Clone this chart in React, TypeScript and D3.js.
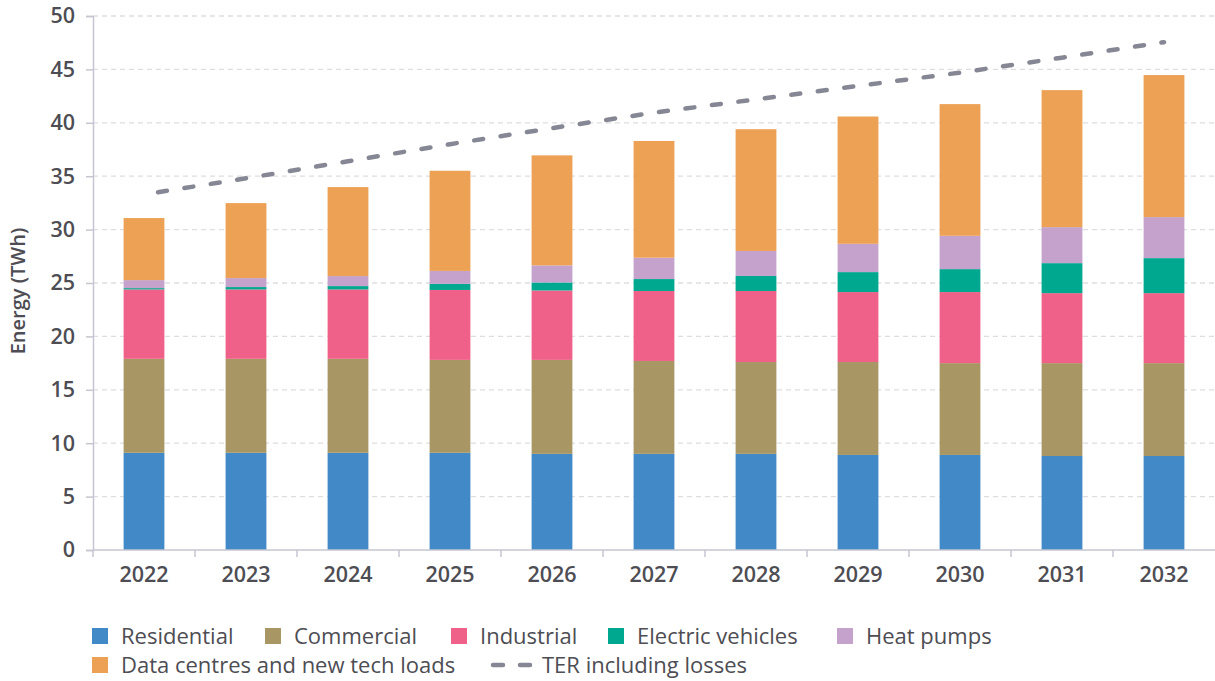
import React, { useEffect, useRef } from "react"
import * as d3 from "d3"

const WIDTH = 1215
const HEIGHT = 681

const years = ["2022", "2023", "2024", "2025", "2026", "2027", "2028", "2029", "2030", "2031", "2032"]

const residential = [9.1, 9.1, 9.1, 9.1, 9.0, 9.0, 9.0, 8.9, 8.9, 8.8, 8.8]
const commercial = [8.8, 8.8, 8.8, 8.7, 8.8, 8.7, 8.6, 8.7, 8.6, 8.7, 8.7]
const industrial = [6.5, 6.5, 6.5, 6.55, 6.5, 6.55, 6.65, 6.55, 6.65, 6.55, 6.55]
const electricVehicles = [0.12, 0.22, 0.31, 0.57, 0.75, 1.12, 1.41, 1.87, 2.15, 2.81, 3.28]
const heatPumps = [0.75, 0.84, 0.94, 1.21, 1.6, 2.0, 2.34, 2.65, 3.12, 3.37, 3.84]
const dataCentres = [5.81, 7.02, 8.33, 9.38, 10.3, 10.93, 11.4, 11.92, 12.33, 12.83, 13.3]
const terLosses = [33.3, 34.8, 36.4, 38.0, 39.5, 40.95, 42.2, 43.45, 44.7, 46.1, 47.55]

const yTicks = [0, 5, 10, 15, 20, 25, 30, 35, 40, 45, 50]

const seriesNames = ["Residential", "Commercial", "Industrial", "Electric vehicles", "Heat pumps", "Data centres and new tech loads"]
const seriesColors = ["#4289c7", "#a89764", "#ef6189", "#00a88f", "#c4a2cb", "#eca154"]
const seriesValues = [residential, commercial, industrial, electricVehicles, heatPumps, dataCentres]

const LINE_COLOR = "#868794"
const TEXT_COLOR = "#4d4d53"
const FONT = "'Open Sans', 'Noto Sans', sans-serif"

const App = () => {
	const svgRef = useRef<SVGSVGElement>(null)

	useEffect(() => {
		if (!svgRef.current) return
		const svg = d3.select(svgRef.current)
		svg.selectAll("*").remove()

		const margin = { top: 16, right: 0, bottom: 131, left: 93 }
		const width = WIDTH - margin.left - margin.right
		const height = HEIGHT - margin.top - margin.bottom

		const g = svg.append("g").attr("transform", `translate(${margin.left},${margin.top})`)

		const xScale = d3.scaleBand().domain(years).range([0, width]).paddingInner(0.6).paddingOuter(0.3)
		const xBoundary = d3.scaleBand().domain(years).range([0, width]).padding(0)
		const yScale = d3.scaleLinear().domain([0, 50]).range([height, 0])

		// dashed grid
		g.append("g")
			.selectAll("line")
			.data(yTicks.filter((t) => t > 0))
			.join("line")
			.attr("x1", 0)
			.attr("x2", width)
			.attr("y1", (d) => yScale(d))
			.attr("y2", (d) => yScale(d))
			.attr("stroke", "#dedee2")
			.attr("stroke-width", 1.3)
			.attr("stroke-dasharray", "5,4")

		// stacked bars
		const table = years.map((year, i) => {
			const row: any = { year }
			seriesNames.forEach((name, s) => (row[name] = seriesValues[s][i]))
			return row
		})
		const stacked = d3.stack().keys(seriesNames)(table)

		g.append("g")
			.selectAll("g")
			.data(stacked)
			.join("g")
			.attr("fill", (_, i) => seriesColors[i])
			.selectAll("rect")
			.data((d) => d)
			.join("rect")
			.attr("x", (d: any) => xScale(d.data.year)!)
			.attr("width", xScale.bandwidth())
			.attr("y", (d) => yScale(d[1]))
			.attr("height", (d) => yScale(d[0]) - yScale(d[1]))

		// TER line
		const line = d3
			.line<number>()
			.x((_, i) => xScale(years[i])! + xScale.bandwidth() / 2)
			.y((d) => yScale(d))
		g.append("path")
			.datum(terLosses)
			.attr("fill", "none")
			.attr("stroke", LINE_COLOR)
			.attr("stroke-width", 4.5)
			.attr("stroke-linecap", "round")
			.attr("stroke-dasharray", "9,17.7")
			.attr("stroke-dashoffset", 12.5)
			.attr("d", line)

		// axes
		const axisColor = "#c6c6d2"
		const yAxis = g.append("g").call(d3.axisLeft(yScale).tickValues(yTicks).tickSize(7).tickPadding(11))
		yAxis.select(".domain").attr("stroke", axisColor).attr("stroke-width", 1.5)
		yAxis.selectAll(".tick line").attr("stroke", axisColor).attr("stroke-width", 1.5)
		yAxis.selectAll("text")
			.attr("fill", TEXT_COLOR)
			.style("font-family", FONT)
			.style("font-size", "21.5px")
			.style("font-weight", 600)

		const xAxisG = g.append("g").attr("transform", `translate(0,${height})`)
		xAxisG.append("line")
			.attr("x1", 0)
			.attr("x2", width)
			.attr("stroke", axisColor)
			.attr("stroke-width", 1.5)
		xAxisG.selectAll(".xtick")
			.data(years)
			.join("line")
			.attr("x1", (d) => xBoundary(d)!)
			.attr("x2", (d) => xBoundary(d)!)
			.attr("y1", 0)
			.attr("y2", 7)
			.attr("stroke", axisColor)
			.attr("stroke-width", 1.5)
		xAxisG.selectAll("text")
			.data(years)
			.join("text")
			.attr("x", (d) => xScale(d)! + xScale.bandwidth() / 2)
			.attr("y", 32)
			.attr("text-anchor", "middle")
			.attr("fill", TEXT_COLOR)
			.style("font-family", FONT)
			.style("font-size", "21.5px")
			.style("font-weight", 600)
			.text((d) => d)

		// y title
		svg.append("text")
			.attr("transform", `translate(25,${margin.top + height / 2 + 8}) rotate(-90)`)
			.attr("text-anchor", "middle")
			.attr("fill", TEXT_COLOR)
			.style("font-family", FONT)
			.style("font-size", "20px")
			.style("font-weight", 600)
			.text("Energy (TWh)")

		// legend
		const legendItems = [
			{ name: seriesNames[0], color: seriesColors[0], x: 92, row: 0, type: "box" },
			{ name: seriesNames[1], color: seriesColors[1], x: 265, row: 0, type: "box" },
			{ name: seriesNames[2], color: seriesColors[2], x: 451, row: 0, type: "box" },
			{ name: seriesNames[3], color: seriesColors[3], x: 608, row: 0, type: "box" },
			{ name: seriesNames[4], color: seriesColors[4], x: 837, row: 0, type: "box" },
			{ name: seriesNames[5], color: seriesColors[5], x: 92, row: 1, type: "box" },
			{ name: "TER including losses", color: LINE_COLOR, x: 491, row: 1, type: "line" },
		]
		const legend = svg.append("g")
		legendItems.forEach((item) => {
			const cy = 636 + item.row * 29
			const lg = legend.append("g").attr("transform", `translate(${item.x},${cy})`)
			let textX = 29
			if (item.type === "box") {
				lg.append("rect").attr("x", 0).attr("y", -8).attr("width", 16).attr("height", 16).attr("fill", item.color)
			} else {
				lg.append("line")
					.attr("x1", 2)
					.attr("x2", 40)
					.attr("stroke", item.color)
					.attr("stroke-width", 4.5)
					.attr("stroke-linecap", "round")
					.attr("stroke-dasharray", "10,17")
				textX = 51
			}
			lg.append("text")
				.attr("x", textX)
				.attr("y", 8)
				.attr("fill", TEXT_COLOR)
				.style("font-family", FONT)
				.style("font-size", "22px")
				.style("font-weight", 500)
				.text(item.name)
		})
	}, [])

	return (
		<svg
			ref={svgRef}
			width={WIDTH}
			height={HEIGHT}
			style={{ position: "absolute", left: 0, top: 0, background: "#fff" }}
		></svg>
	)
}

export default App
